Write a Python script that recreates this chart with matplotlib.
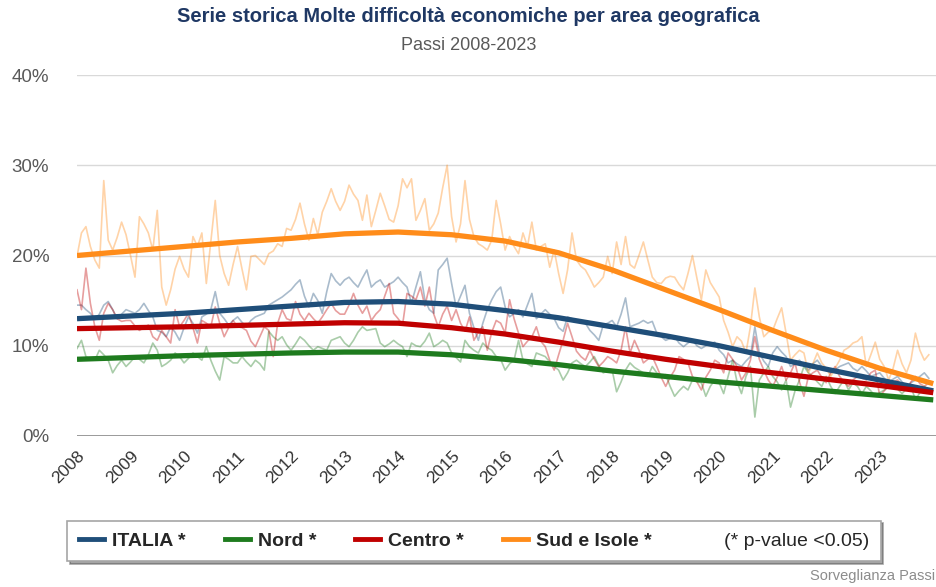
import matplotlib
matplotlib.use("Agg")
import matplotlib.pyplot as plt
from matplotlib.lines import Line2D
import numpy as np

plt.rcParams['font.family'] = ['Liberation Sans', 'DejaVu Sans']

# ---------------- data ----------------
years = list(range(2008, 2024))
series_names = ["ITALIA *", "Nord *", "Centro *", "Sud e Isole *"]

italia_monthly = [
    14.5, 14.5, 14.0, 13.6, 12.9, 13.5, 14.5, 14.9, 14.0, 13.0, 13.5, 14.0,
    13.8, 13.6, 14.0, 14.7, 13.9, 13.2, 11.7, 11.5, 11.0, 12.1, 11.5, 10.6,
    12.0, 13.2, 12.5, 11.4, 13.2, 13.5, 14.0, 16.0, 13.6, 13.0, 12.3, 12.8,
    13.2, 12.6, 12.1, 12.8, 13.2, 13.4, 13.6, 14.5, 14.8, 15.1, 15.4, 15.8,
    16.2, 16.8, 17.3, 15.5, 14.3, 15.8, 15.0, 13.6, 16.0, 18.0, 17.2, 16.7,
    17.3, 17.6, 17.0, 16.5, 17.5, 18.4, 16.5, 17.0, 17.3, 16.5, 16.8, 17.1,
    17.6, 17.0, 16.5, 14.7, 16.5, 18.2, 15.1, 14.0, 13.6, 18.4, 19.0, 19.7,
    16.9, 14.3, 15.5, 16.7, 13.6, 12.0, 10.6, 12.5, 14.0, 15.1, 16.0, 16.5,
    14.3, 13.2, 13.6, 14.0, 13.2, 14.5, 15.8, 13.0, 13.5, 14.0, 13.5, 13.0,
    12.0, 11.6, 13.2, 13.0, 12.8, 12.6, 12.5, 11.7, 11.2, 10.6, 12.3, 12.5,
    12.8, 12.1, 13.5, 15.3, 12.1, 12.3, 12.5, 12.8, 12.5, 12.7, 11.4, 11.0,
    10.6, 10.8, 11.0, 10.3, 9.9, 10.3, 10.6, 10.0, 9.7, 10.0, 10.2, 10.4,
    9.5, 9.0, 8.1, 8.4, 8.0, 7.7, 8.3, 8.8, 12.1, 9.2, 8.3, 7.7,
    9.2, 9.9, 9.3, 8.8, 7.7, 8.0, 8.4, 7.8, 7.3, 8.0, 8.4, 7.7,
    7.3, 7.0, 7.3, 7.7, 7.9, 8.1, 7.5, 7.2, 7.7, 7.2, 6.6, 6.8,
    7.0, 6.4, 5.9, 6.3, 6.6, 6.0, 5.5, 5.9, 6.2, 6.6, 7.0, 6.4,
]

nord_monthly = [
    9.7, 10.6, 8.8, 8.5, 8.4, 9.5, 9.0, 8.4, 7.0, 7.8, 8.4, 7.7,
    8.2, 8.8, 8.5, 8.1, 9.0, 10.3, 9.5, 7.7, 8.0, 8.4, 9.2, 8.8,
    8.1, 8.6, 9.2, 8.8, 8.4, 9.9, 8.4, 7.2, 6.2, 8.8, 8.5, 8.1,
    8.1, 8.8, 8.2, 7.7, 8.4, 8.0, 7.3, 11.6, 11.0, 10.6, 11.0, 10.1,
    9.5, 10.2, 11.0, 10.6, 10.0, 9.5, 9.9, 9.7, 9.5, 10.6, 10.8, 11.0,
    10.3, 9.9, 10.6, 11.5, 12.1, 11.7, 11.8, 11.9, 10.3, 9.9, 10.2, 10.6,
    10.2, 9.9, 8.8, 10.3, 10.0, 9.9, 10.5, 11.4, 9.9, 10.2, 10.6, 10.3,
    9.2, 8.7, 8.2, 10.6, 9.9, 9.5, 9.2, 10.3, 9.8, 9.5, 8.8, 8.5,
    7.3, 8.0, 8.4, 10.6, 8.4, 8.0, 7.7, 9.2, 9.0, 8.8, 8.2, 7.7,
    7.3, 6.2, 7.0, 8.1, 8.4, 8.0, 7.7, 8.2, 8.8, 7.8, 7.0, 7.2,
    7.3, 4.9, 6.0, 7.3, 8.1, 7.6, 7.3, 7.0, 6.6, 7.7, 7.0, 6.6,
    6.8, 5.5, 4.4, 5.0, 5.5, 5.1, 6.2, 6.0, 5.9, 4.4, 5.5, 6.2,
    5.9, 4.7, 6.6, 8.4, 6.0, 4.7, 6.6, 7.7, 2.1, 6.2, 7.0, 7.7,
    6.6, 6.0, 5.1, 6.2, 3.2, 5.0, 6.2, 7.7, 7.0, 6.6, 6.0, 5.5,
    6.6, 5.5, 4.7, 5.5, 6.2, 5.1, 5.9, 5.5, 4.7, 5.5, 5.0, 4.4,
    4.8, 5.1, 5.5, 5.9, 5.2, 4.7, 5.2, 5.5, 4.0, 4.8, 5.5, 5.1,
]

centro_monthly = [
    16.2, 14.0, 18.6, 14.7, 12.1, 10.6, 13.6, 14.7, 14.0, 13.0, 12.7, 12.8,
    12.8, 12.2, 11.7, 12.0, 12.3, 11.0, 10.6, 11.7, 11.0, 10.3, 14.0, 12.1,
    12.8, 13.6, 12.0, 10.3, 12.8, 12.5, 12.1, 14.3, 12.5, 11.0, 12.0, 12.8,
    12.1, 12.0, 11.7, 10.5, 9.9, 11.0, 12.1, 11.7, 8.8, 12.5, 14.0, 13.0,
    12.8, 14.9, 13.5, 12.8, 13.6, 13.0, 12.5, 13.2, 14.0, 14.7, 13.9, 13.5,
    13.5, 14.5, 15.8, 14.5, 13.6, 14.4, 12.8, 13.5, 14.0, 15.5, 16.9, 13.6,
    13.0, 12.3, 15.8, 15.5, 15.1, 16.5, 14.4, 16.5, 13.5, 12.1, 13.5, 14.4,
    12.8, 14.0, 12.5, 11.6, 13.2, 10.6, 11.5, 12.1, 9.5, 11.5, 12.8, 12.5,
    11.4, 15.1, 13.0, 11.4, 9.9, 10.5, 11.0, 12.1, 10.5, 9.9, 8.4, 7.3,
    9.0, 10.6, 12.5, 11.0, 9.4, 8.8, 8.4, 9.5, 8.5, 7.7, 8.2, 8.8,
    8.5, 8.1, 9.5, 12.1, 9.2, 10.6, 9.5, 8.1, 8.5, 8.8, 7.7, 6.5,
    5.5, 6.5, 7.3, 8.8, 8.5, 8.1, 6.6, 6.0, 5.1, 6.5, 7.3, 8.4,
    8.1, 7.0, 9.2, 8.5, 7.7, 6.2, 7.0, 8.4, 11.0, 8.5, 7.3, 6.2,
    5.5, 6.5, 7.7, 6.2, 7.0, 8.1, 6.0, 4.4, 6.6, 7.0, 7.3, 6.5,
    5.9, 7.0, 7.7, 6.6, 6.0, 5.5, 6.2, 6.6, 6.4, 6.2, 7.0, 7.3,
    4.4, 5.0, 5.5, 6.0, 6.2, 5.6, 5.1, 6.0, 6.6, 5.8, 5.5, 5.9,
]

sud_monthly = [
    19.9, 22.5, 23.2, 21.0, 19.5, 18.6, 28.3, 21.7, 20.6, 22.0, 23.7, 22.3,
    20.0, 17.6, 24.3, 23.5, 22.5, 20.6, 25.0, 16.5, 14.5, 16.2, 18.5, 19.9,
    18.5, 17.6, 22.1, 21.0, 22.5, 16.9, 21.5, 26.1, 20.0, 18.0, 16.7, 19.0,
    21.0, 18.5, 16.2, 19.9, 20.0, 19.5, 19.0, 20.2, 20.5, 21.3, 21.0, 23.0,
    22.8, 24.0, 25.8, 23.5, 21.7, 24.1, 22.3, 24.8, 26.0, 27.4, 26.0, 25.0,
    26.0, 27.8, 26.8, 26.1, 23.9, 26.7, 23.2, 25.0, 26.9, 25.5, 24.0, 23.7,
    25.5, 28.5, 27.5, 28.5, 23.9, 25.0, 26.3, 22.8, 23.5, 24.7, 27.5, 30.0,
    24.3, 21.5, 23.5, 28.3, 24.0, 22.1, 21.3, 21.0, 20.6, 21.7, 26.1, 23.5,
    20.6, 22.1, 21.0, 20.2, 22.5, 21.0, 23.7, 20.6, 21.0, 21.3, 18.7, 20.6,
    18.0, 15.8, 18.4, 22.5, 19.5, 18.8, 18.4, 17.5, 16.5, 17.0, 17.6, 19.9,
    18.0, 21.5, 19.0, 22.1, 19.0, 18.6, 20.0, 21.5, 19.5, 17.6, 17.0, 16.9,
    17.5, 17.7, 17.6, 16.8, 16.2, 18.0, 20.0, 17.5, 15.1, 18.4, 17.0, 16.2,
    15.4, 12.8, 11.5, 9.9, 11.0, 10.5, 9.2, 12.1, 16.4, 13.2, 11.0, 11.5,
    11.7, 13.0, 14.2, 11.4, 8.4, 9.0, 9.5, 9.2, 7.0, 8.0, 9.2, 8.1,
    7.5, 6.6, 7.5, 8.4, 9.5, 9.8, 10.3, 10.5, 11.0, 7.7, 9.0, 10.4,
    8.5, 7.7, 6.2, 7.5, 9.5, 8.0, 7.0, 8.4, 11.4, 9.5, 8.4, 9.0,
]

trend_years = list(range(2008, 2025))
italia_trend = [13.0, 13.3, 13.6, 14.0, 14.4, 14.8, 14.9, 14.6, 13.9, 13.1, 12.1, 11.1, 10.0, 8.7, 7.4, 6.2, 5.0]
nord_trend = [8.5, 8.7, 8.9, 9.05, 9.2, 9.3, 9.3, 9.0, 8.5, 7.9, 7.2, 6.6, 6.0, 5.5, 5.0, 4.5, 4.0]
centro_trend = [11.9, 12.0, 12.1, 12.25, 12.4, 12.55, 12.5, 12.0, 11.3, 10.4, 9.4, 8.5, 7.7, 7.0, 6.3, 5.6, 4.8]
sud_trend = [20.0, 20.5, 21.0, 21.5, 21.9, 22.4, 22.6, 22.3, 21.6, 20.3, 18.4, 16.2, 14.0, 11.7, 9.5, 7.5, 5.8]

colors = ["#1F4E79", "#1E7B1E", "#C00000", "#FF8C1A"]
y_ticks = [0, 10, 20, 30, 40]
y_tick_labels = ["0%", "10%", "20%", "30%", "40%"]

# ---------------- figure ----------------
fig = plt.figure(figsize=(9.37, 5.87), dpi=100)
ax = fig.add_axes([77 / 937, 1 - 436 / 587, 1 - 77 / 937, (436 - 75) / 587])

months_x = [y + m / 12 for y in years for m in range(12)]
monthly = [italia_monthly, nord_monthly, centro_monthly, sud_monthly]
trends = [italia_trend, nord_trend, centro_trend, sud_trend]

for vals, c in zip(monthly, colors):
    ax.plot(months_x, vals, color=c, lw=1.2, alpha=0.38, zorder=2, solid_joinstyle='round')
for vals, c in zip(trends, colors):
    ax.plot(trend_years, vals, color=c, lw=3.8, zorder=3, solid_capstyle='butt')

ax.set_xlim(2008, 2024.07)
ax.set_ylim(0, 40)
ax.set_yticks(y_ticks)
ax.set_yticklabels(y_tick_labels, fontsize=13.5, color="#595959")
ax.set_xticks(years)
ax.set_xticklabels([str(y) for y in years], rotation=45, ha='right', va='top',
                   rotation_mode='anchor', fontsize=12.5, color="#333333")
ax.tick_params(axis='both', length=0)
ax.tick_params(axis='y', pad=20)
ax.tick_params(axis='x', pad=9)
for s in ax.spines.values():
    s.set_visible(False)
ax.grid(axis='y', color="#D9D9D9", lw=1)
ax.grid(axis='x', visible=False)
ax.axhline(0, color="#7F7F7F", lw=1.8, zorder=4)
ax.set_axisbelow(True)
ax.set_facecolor('none')

# titles
fig.text(0.5, 1 - 17 / 587, "Serie storica Molte difficoltà economiche per area geografica",
         ha='center', va='center', fontsize=14.5, fontweight='bold', color="#1F3864")
fig.text(0.5, 1 - 45 / 587, "Passi 2008-2023", ha='center', va='center', fontsize=13,
         color="#595959")
fig.text(810 / 937, 1 - 576 / 587, "Sorveglianza Passi", ha='left', va='center',
         fontsize=10.5, color="#8C8C8C")

# legend
handles = [Line2D([], [], color=c, lw=3.5) for c in colors]
handles.append(Line2D([], [], color='none', lw=0))
labels = series_names + ["(* p-value <0.05)"]
leg = fig.legend(handles, labels, loc='center', bbox_to_anchor=(474 / 937, 1 - 541 / 587),
                 ncol=5, frameon=True, fancybox=False, shadow=True, fontsize=14,
                 handlelength=1.3, handletextpad=0.4, columnspacing=2.0,
                 borderpad=0.6, edgecolor="#A6A6A6")
leg.get_frame().set_linewidth(1.2)
for i, t in enumerate(leg.get_texts()):
    t.set_color("#262626")
    if i < 4:
        t.set_fontweight('bold')

fig.savefig("out.png", dpi=100)
